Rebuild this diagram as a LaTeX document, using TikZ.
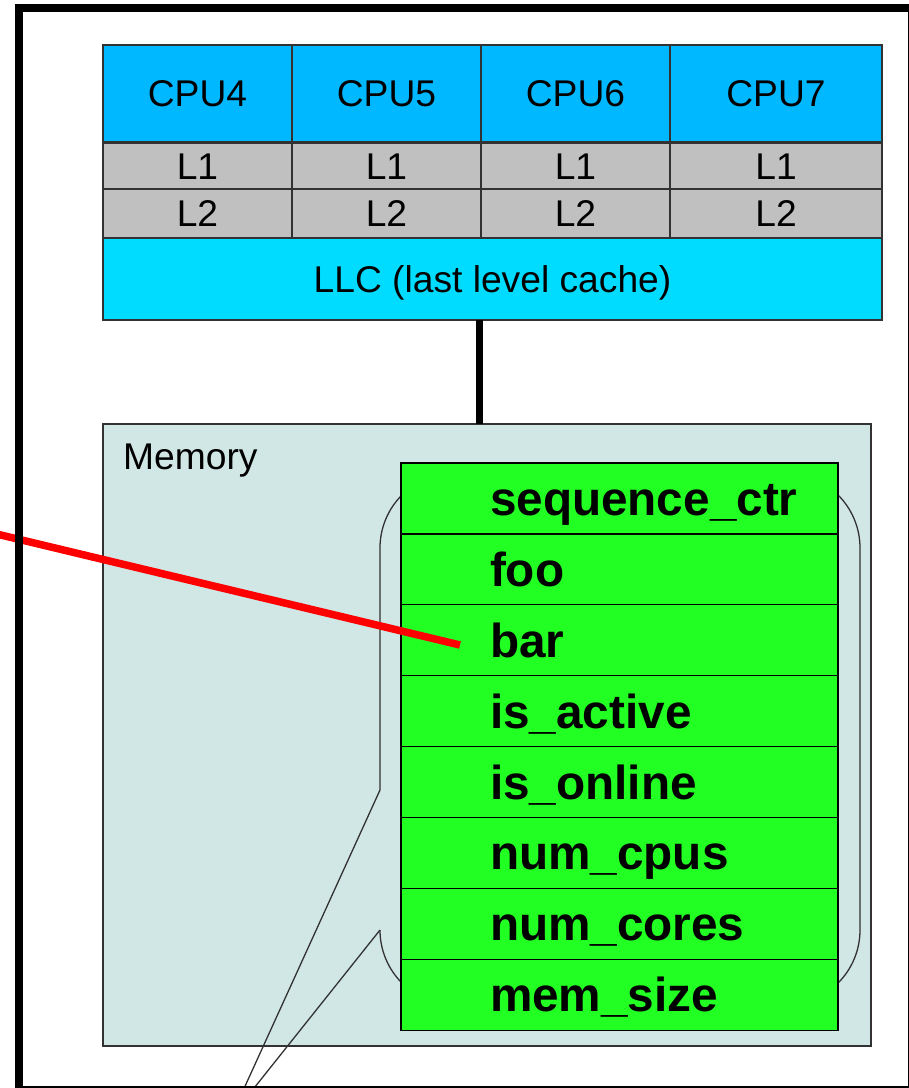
\documentclass[tikz,border=0pt]{standalone}
\usepackage{fontspec}
\setmainfont{Liberation Sans}
\definecolor{cpublue}{RGB}{0,184,255}
\definecolor{llcblue}{RGB}{0,220,255}
\definecolor{cachegray}{RGB}{192,192,192}
\definecolor{memfill}{RGB}{209,231,229}
\definecolor{fieldgreen}{RGB}{34,255,34}
\definecolor{edgegray}{RGB}{50,50,50}
\newcommand\fieldlabel[1]{\hspace*{89pt}\makebox[348pt][l]{#1}}
\begin{document}
\begin{tikzpicture}[x=1pt,y=-1pt,
  box/.style={draw=edgegray, line width=1.3pt, inner sep=0pt, outer sep=0pt, anchor=north west},
  plain/.style={font=\fontsize{37.2}{40}\selectfont, text height=26.6pt, text depth=0pt},
  cpucell/.style={box, plain, fill=cpublue, minimum height=97pt},
  l1cell/.style={box, plain, fill=cachegray, minimum height=46pt},
  l2cell/.style={box, plain, fill=cachegray, minimum height=49pt},
  llcbox/.style={box, plain, fill=llcblue, minimum width=779pt, minimum height=82pt},
  membox/.style={box, fill=memfill, minimum width=768pt, minimum height=622pt},
  field/.style={box, draw=black, fill=fieldgreen, inner xsep=0pt, minimum width=437pt, minimum height=70.9pt,
    font=\fontsize{47.7}{50}\bfseries\selectfont, text height=34pt, text depth=0pt},
  callout/.style={draw=edgegray, line width=1.3pt},
  bus/.style={line width=7pt, draw=black},
  pointer/.style={line width=7.5pt, draw=red},
  frame/.style={line width=8pt, draw=black}
]
\useasboundingbox (0,0) rectangle (909,1088);
\clip (0,0) rectangle (909,1088);

% processor cores with their private caches
\foreach \n/\x/\w in {4/103/189,5/292/189,6/481/189,7/670/212}{
  \node[cpucell, minimum width=\w pt] (cpu\n) at (\x,45) {CPU\n};
  \node[l1cell, minimum width=\w pt] (l1\n) at (\x,143) {L1};
  \node[l2cell, minimum width=\w pt] (l2\n) at (\x,189) {L2};
}
\node[llcbox] (llc) at (103,238) {LLC (last level cache)};

% memory
\node[membox] (mem) at (103,424) {};
\node[plain, anchor=west, inner sep=0pt] (memlabel) at (123,456) {Memory};

% callout outline behind the structure
\coordinate (cTopL) at (380,790);
\coordinate (cBotL) at (380,930);
\coordinate (cTip) at (231,1117);
\draw[callout, rounded corners=75pt] (cTopL) -- (380,473) -- (860,473) -- (860,1005) -- (380,1005) -- (cBotL);
\draw[callout] (cTopL) -- (cTip) -- (cBotL);

% structure fields
\foreach \i/\t in {0/sequence\_ctr,1/foo,2/bar,3/is\_active,4/is\_online,5/num\_cpus,6/num\_cores,7/mem\_size}{
  \node[field] (f\i) at (401,463+70.9*\i) {\fieldlabel{\t}};
}

% bus between cache and memory
\coordinate (busTop) at (479,320);
\draw[bus] (busTop) -- (busTop |- mem.north);

% pointer into the structure
\coordinate (ptrStart) at (-20,530);
\coordinate (ptrEnd) at (460,645);
\draw[pointer] (ptrStart) -- (ptrEnd);

% outer frame
\draw[frame] (19,8) rectangle (912,1090);
\end{tikzpicture}
\end{document}
